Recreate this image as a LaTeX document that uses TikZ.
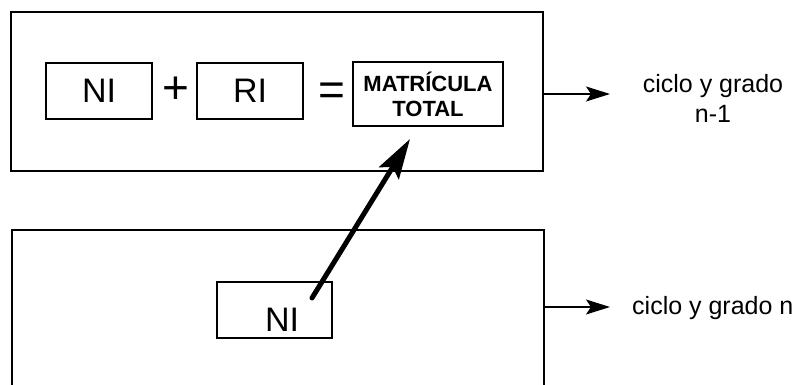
\documentclass[tikz,border=0pt]{standalone}
\usepackage{fontspec}
\setmainfont{Liberation Sans}
\usetikzlibrary{positioning, arrows.meta}

\begin{document}
\begin{tikzpicture}[x=1pt, y=-1pt,
			frame/.style={draw, line width=1.8pt, inner sep=0pt},
			box/.style={draw, line width=1.8pt, inner sep=0pt},
			big/.style={font=\fontsize{34}{40}\selectfont},
			sym/.style={font=\fontsize{46}{50}\selectfont},
			lbl/.style={font=\fontsize{25}{30}\selectfont, align=center},
			flow/.style={line width=1.2pt, -{Stealth[length=24pt, width=15pt, inset=5pt]}},
			push/.style={line width=5pt, line cap=round, -{Stealth[length=40pt, width=23pt, inset=7pt]}}]
			\useasboundingbox (0,0) rectangle (798,385);
			
			% outer frames
			\node[frame, minimum width=532pt, minimum height=159pt] (upper) at (277,91.5) {};
			\node[frame, minimum width=532pt, minimum height=200pt, anchor=north west] (lower) at (11,229) {};
			
			% equation
			\node[box, big, minimum width=106pt, minimum height=56pt] (ni) at (99,91) {NI};
			\node[sym] (plus) at (176,90) {+};
			\node[box, big, minimum width=106pt, minimum height=56pt] (ri) at (250,91) {RI};
			\node[sym] (eq) at (332,94) {=};
			\node[box, minimum width=150pt, minimum height=64pt, align=center,
				font=\fontsize{22}{25}\selectfont\bfseries] (mt) at (428,94) {MATRÍCULA\\TOTAL};
			
			% new entrants below
			\node[box, minimum width=115pt, minimum height=56pt] (nib) at (274.5,310) {};
			\node[big] (nit) at (282,320) {NI};
			
			\coordinate (from) at (312,298);
			\coordinate (tip) at (410,139);
			\draw[push] (from) -- (tip);
			
			% outputs
			\coordinate (upend) at (610,94);
			\coordinate (lowend) at (610,307);
			\draw[flow] (upper.east |- upend) -- (upend);
			\draw[flow] (lower.east |- lowend) -- (lowend);
			\node[lbl] (uplbl) at (713,98) {ciclo y grado\\n-1};
			\node[lbl, anchor=base west, inner sep=0pt] (lowlbl) at (632,314) {ciclo y grado n};
		\end{tikzpicture}
\end{document}
